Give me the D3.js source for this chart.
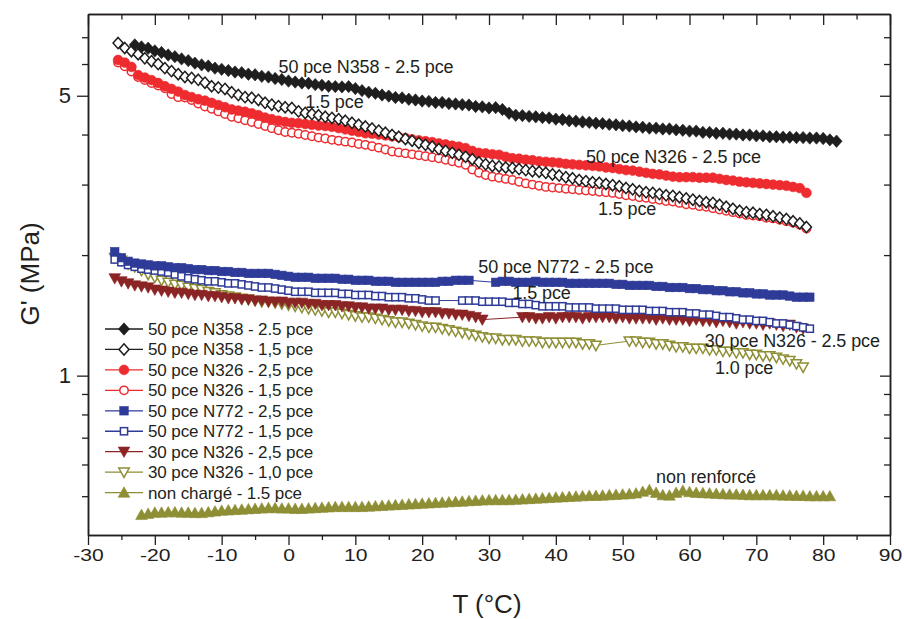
<!DOCTYPE html>
<html>
<head>
<meta charset="utf-8">
<script src="https://cdn.jsdelivr.net/npm/d3@7"></script>
<style>
html,body{margin:0;padding:0;background:#fff;}
svg text{font-family:"Liberation Sans",Arial,Helvetica,sans-serif;fill:#231f20;}
</style>
</head>
<body>
<svg id="chart" width="904" height="619"></svg>
<script>
// ---------------- DATA ----------------
const xTicksMajor = [-30,-20,-10,0,10,20,30,40,50,60,70,80,90];
const xTicksMinor = [-25,-15,-5,5,15,25,35,45,55,65,75,85];
const yTicksMajor = [1,5];
const yTicksMinor = [0.5,0.6,0.7,0.8,0.9,2,3,4,6,7];
const xTitle = "T (°C)";
const yTitle = "G' (MPa)";

const legendLabels = [
  "50 pce N358 - 2.5 pce",
  "50 pce N358 - 1,5 pce",
  "50 pce N326 - 2,5 pce",
  "50 pce N326 - 1,5 pce",
  "50 pce N772 - 2,5 pce",
  "50 pce N772 - 1,5 pce",
  "30 pce N326 - 2,5 pce",
  "30 pce N326 - 1,0 pce",
  "non chargé - 1.5 pce"
];

// first temperature of each series (°C); points are 1 °C apart
const startT = [-23, -25.5, -25.5, -25.5, -26, -26, -26, -26, -22];

const g_N358_25 = [6.70,6.62,6.57,6.47,6.41,6.32,6.26,6.18,6.12,6.03,5.97,5.93,5.86,5.82,5.78,5.73,5.71,5.66,5.64,5.59,5.57,5.52,5.49,5.44,5.41,5.38,5.37,5.33,5.31,5.28,5.27,5.26,5.27,5.21,5.15,5.10,5.07,5.02,4.99,4.95,4.94,4.90,4.88,4.85,4.84,4.81,4.81,4.78,4.77,4.75,4.74,4.70,4.69,4.66,4.67,4.62,4.52,4.47,4.46,4.44,4.43,4.41,4.40,4.37,4.36,4.33,4.32,4.30,4.29,4.27,4.26,4.24,4.23,4.21,4.20,4.18,4.17,4.15,4.15,4.13,4.13,4.11,4.10,4.08,4.08,4.05,4.05,4.03,4.03,4.01,4.01,3.99,3.99,3.97,3.97,3.95,3.95,3.94,3.94,3.93,3.93,3.92,3.92,3.91,3.88,3.85];
const g_N358_15 = [6.77,6.58,6.46,6.35,6.20,6.10,6.00,5.86,5.76,5.66,5.57,5.54,5.48,5.39,5.28,5.24,5.20,5.10,5.02,4.96,4.94,4.88,4.80,4.75,4.71,4.68,4.66,4.57,4.53,4.50,4.47,4.43,4.40,4.37,4.33,4.28,4.23,4.19,4.14,4.09,4.04,3.99,3.95,3.90,3.86,3.81,3.77,3.73,3.68,3.64,3.60,3.56,3.52,3.47,3.41,3.37,3.34,3.33,3.31,3.30,3.28,3.26,3.24,3.23,3.21,3.18,3.16,3.13,3.11,3.08,3.06,3.04,3.03,3.01,2.99,2.97,2.94,2.92,2.89,2.87,2.86,2.84,2.82,2.81,2.79,2.77,2.75,2.73,2.71,2.70,2.67,2.64,2.61,2.58,2.56,2.55,2.53,2.52,2.50,2.48,2.46,2.43,2.40,2.35];
const g_N326_25 = [6.14,6.05,5.90,5.63,5.55,5.47,5.38,5.28,5.20,5.12,5.02,4.96,4.90,4.86,4.80,4.74,4.68,4.62,4.59,4.56,4.52,4.47,4.41,4.37,4.33,4.30,4.28,4.27,4.25,4.23,4.21,4.20,4.18,4.15,4.12,4.09,4.06,4.03,4.02,4.00,3.98,3.96,3.94,3.92,3.89,3.87,3.85,3.83,3.80,3.78,3.75,3.73,3.70,3.64,3.60,3.59,3.57,3.56,3.52,3.49,3.48,3.46,3.45,3.43,3.42,3.41,3.40,3.38,3.37,3.36,3.35,3.34,3.33,3.31,3.30,3.28,3.26,3.25,3.23,3.21,3.19,3.18,3.16,3.14,3.13,3.13,3.13,3.12,3.12,3.12,3.10,3.08,3.07,3.05,3.04,3.03,3.02,3.01,3.00,2.99,2.98,2.96,2.94,2.86];
const g_N326_15 = [6.05,5.92,5.75,5.57,5.47,5.38,5.30,5.22,5.05,4.96,4.95,4.88,4.78,4.70,4.64,4.57,4.50,4.43,4.39,4.34,4.30,4.25,4.20,4.15,4.10,4.06,4.04,4.02,3.99,3.96,3.93,3.91,3.88,3.86,3.84,3.82,3.79,3.77,3.74,3.71,3.67,3.63,3.61,3.59,3.57,3.55,3.53,3.51,3.49,3.46,3.43,3.40,3.36,3.27,3.21,3.17,3.14,3.12,3.10,3.08,3.05,3.02,3.00,2.98,2.96,2.95,2.94,2.93,2.92,2.91,2.90,2.89,2.88,2.87,2.86,2.84,2.82,2.81,2.79,2.78,2.76,2.75,2.73,2.72,2.70,2.68,2.67,2.65,2.64,2.62,2.60,2.58,2.56,2.54,2.52,2.51,2.50,2.48,2.47,2.45,2.43,2.41,2.38,2.33];
const g_N772_25 = [2.04,1.97,1.93,1.91,1.90,1.89,1.88,1.88,1.87,1.86,1.86,1.85,1.84,1.84,1.83,1.83,1.82,1.82,1.81,1.81,1.80,1.80,1.80,1.80,1.79,1.78,1.77,1.76,1.76,1.76,1.75,1.75,1.75,1.75,1.74,1.74,1.73,1.73,1.73,1.72,1.72,1.72,1.71,1.71,1.71,1.71,1.71,1.71,1.71,1.72,1.72,1.73,1.73,1.73,null,null,null,1.71,1.72,1.72,1.71,1.71,1.71,1.72,1.71,1.71,1.71,1.71,1.70,1.70,1.70,1.70,1.70,1.70,1.70,1.69,1.69,1.68,1.68,1.68,1.68,1.67,1.67,1.66,1.66,1.66,1.65,1.65,1.64,1.64,1.63,1.63,1.62,1.62,1.61,1.61,1.60,1.60,1.59,1.59,1.59,1.58,1.57,1.57,1.57];
const g_N772_15 = [1.95,1.92,1.89,1.87,1.85,1.84,1.83,1.82,1.81,1.79,1.77,1.75,1.74,1.73,1.72,1.72,1.71,1.70,1.70,1.69,1.68,1.67,1.66,1.66,1.65,1.64,1.63,1.62,1.62,1.62,1.61,1.61,1.61,1.61,1.60,1.60,1.59,1.59,1.59,1.58,1.58,1.57,1.57,1.57,1.56,1.56,1.55,1.54,1.54,null,null,null,1.54,1.54,1.54,1.53,1.53,1.53,1.53,1.52,1.52,1.51,1.51,1.50,1.49,1.49,1.49,1.49,1.48,1.48,1.48,1.48,1.47,1.47,1.47,1.47,1.46,1.46,1.46,1.46,1.45,1.45,1.45,1.44,1.44,1.44,1.43,1.43,1.42,1.42,1.41,1.40,1.40,1.39,1.38,1.38,1.37,1.37,1.36,1.35,1.35,1.34,1.33,1.32,1.31];
const g_30N326_25 = [1.75,1.72,1.70,1.68,1.67,1.66,1.64,1.63,1.62,1.61,1.61,1.60,1.59,1.59,1.58,1.58,1.57,1.56,1.56,1.55,1.55,1.54,1.54,1.53,1.53,1.53,1.52,1.52,1.52,1.51,1.51,1.50,1.50,1.50,1.49,1.49,1.48,1.48,1.47,1.47,1.47,1.46,1.46,1.46,1.45,1.45,1.44,1.44,1.44,1.43,1.43,1.42,1.42,1.41,1.40,1.38,null,null,null,null,null,1.40,1.40,1.39,1.39,1.40,1.39,1.40,1.40,1.40,1.39,1.40,1.40,1.40,1.40,1.39,1.40,1.39,1.39,1.39,1.39,1.38,1.39,1.38,1.38,1.38,1.37,1.38,1.37,1.37,1.36,1.37,1.36,1.35,1.36,1.35,1.35,1.34,1.35,1.34,1.33,1.34,1.32,1.31];
const g_30N326_10 = [1.97,1.94,1.90,1.87,1.83,1.79,1.76,1.73,1.71,1.69,1.68,1.66,1.65,1.64,1.62,1.61,1.59,1.58,1.57,1.56,1.55,1.54,1.53,1.53,1.52,1.51,1.50,1.49,1.48,1.47,1.46,1.45,1.44,1.44,1.43,1.42,1.41,1.40,1.40,1.39,1.38,1.37,1.36,1.36,1.35,1.34,1.33,1.32,1.32,1.31,1.30,1.29,1.28,1.27,1.26,1.25,1.24,1.24,1.23,1.23,1.23,1.22,1.22,1.22,1.21,1.21,1.21,1.21,1.21,1.21,1.20,1.20,1.19,null,null,null,null,1.22,1.22,1.21,1.21,1.20,1.20,1.19,1.18,1.18,1.17,1.17,1.17,1.16,1.16,1.15,1.15,1.14,1.14,1.13,1.13,1.12,1.12,1.11,1.10,1.09,1.07,1.05];
const g_nonCharge = [0.449,0.452,0.455,0.455,0.456,0.456,0.455,0.455,0.454,0.454,0.456,0.458,0.460,0.461,0.462,0.463,0.464,0.465,0.466,0.467,0.467,0.466,0.466,0.465,0.465,0.466,0.467,0.468,0.469,0.470,0.470,0.470,0.470,0.470,0.471,0.472,0.473,0.474,0.475,0.476,0.477,0.478,0.479,0.480,0.481,0.482,0.483,0.484,0.485,0.486,0.487,0.488,0.489,0.489,0.489,0.489,0.490,0.491,0.492,0.493,0.494,0.495,0.496,0.497,0.498,0.499,0.500,0.501,0.501,0.502,0.503,0.504,0.505,0.506,0.508,0.513,0.518,0.510,0.503,0.502,0.510,0.516,0.512,0.510,0.509,0.508,0.507,0.506,0.505,0.505,0.504,0.503,0.503,0.503,0.503,0.503,0.502,0.502,0.501,0.501,0.500,0.500,0.500,0.500];

const annotations = [
  {text:"50 pce N358 - 2.5 pce", t:-1.5, v:5.91},
  {text:"1.5 pce", t:2.5, v:4.83},
  {text:"50 pce N326 - 2.5 pce", t:44.5, v:3.53},
  {text:"1.5 pce", t:46.3, v:2.61},
  {text:"50 pce N772 - 2.5 pce", t:28.4, v:1.87},
  {text:"1.5 pce", t:33.5, v:1.61},
  {text:"30 pce N326 - 2.5 pce", t:62.3, v:1.22},
  {text:"1.0 pce", t:63.8, v:1.046},
  {text:"non renforcé", t:55.0, v:0.559}
];

// ---------------- STYLE ----------------
const seriesValues = [g_N358_25,g_N358_15,g_N326_25,g_N326_15,g_N772_25,g_N772_15,g_30N326_25,g_30N326_10,g_nonCharge];
const colors = ["#1e1e1e","#1e1e1e","#ee2b2f","#ee2b2f","#2f3b98","#2f3b98","#8b2424","#8e8e35","#8e8e35"];
const shapes = ["diamond","diamond","circle","circle","square","square","triDown","triDown","triUp"];
const filled = [true,false,true,false,true,false,true,false,true];

const svg = d3.select("#chart");
const L = 88, R = 890, T = 14, B = 535;

const x = d3.scaleLinear().domain([-30,90]).range([L,R]);
const y = d3.scaleLog().domain([0.4,8]).range([B,T]);

const axisColor = "#231f20";

function styleAxis(g){
  g.selectAll("path.domain").attr("stroke",axisColor).attr("stroke-width",1.5);
  g.selectAll(".tick line").attr("stroke",axisColor).attr("stroke-width",1.3);
}

// bottom
svg.append("g").attr("transform",`translate(0,${B})`)
  .call(d3.axisBottom(x).tickValues(xTicksMinor).tickSize(5).tickSizeOuter(0).tickFormat(""))
  .call(styleAxis);
const xb = svg.append("g").attr("transform",`translate(0,${B})`)
  .call(d3.axisBottom(x).tickValues(xTicksMajor).tickSize(10).tickSizeOuter(0).tickFormat(d3.format("d")))
  .call(styleAxis);
xb.selectAll("text").attr("font-size",16.5).attr("y",0).attr("dy",null)
  .attr("transform","translate(0,26) scale(1.28,1)")
  .text(d=>String(d));
// top
svg.append("g").attr("transform",`translate(0,${T})`)
  .call(d3.axisTop(x).tickValues(xTicksMinor).tickSize(-5.5).tickSizeOuter(0).tickFormat(""))
  .call(styleAxis);
svg.append("g").attr("transform",`translate(0,${T})`)
  .call(d3.axisTop(x).tickValues(xTicksMajor).tickSize(-11).tickSizeOuter(0).tickFormat(""))
  .call(styleAxis);
// left
svg.append("g").attr("transform",`translate(${L},0)`)
  .call(d3.axisLeft(y).tickValues(yTicksMinor).tickSize(6).tickSizeOuter(0).tickFormat(""))
  .call(styleAxis);
const yl = svg.append("g").attr("transform",`translate(${L},0)`)
  .call(d3.axisLeft(y).tickValues(yTicksMajor).tickSize(11).tickSizeOuter(0).tickFormat(d3.format("d")))
  .call(styleAxis);
yl.selectAll("text").attr("font-size",22).attr("x",-17);
// right
svg.append("g").attr("transform",`translate(${R},0)`)
  .call(d3.axisRight(y).tickValues(yTicksMinor).tickSize(-6).tickSizeOuter(0).tickFormat(""))
  .call(styleAxis);
svg.append("g").attr("transform",`translate(${R},0)`)
  .call(d3.axisRight(y).tickValues(yTicksMajor).tickSize(-10).tickSizeOuter(0).tickFormat(""))
  .call(styleAxis);

// titles
svg.append("text").attr("x",487).attr("y",613).attr("text-anchor","middle")
  .attr("font-size",26).text(xTitle);
svg.append("text").attr("transform","translate(39,274) rotate(-90)").attr("text-anchor","middle")
  .attr("font-size",26).text(yTitle);

// markers
function marker(g, shape, isFilled, color){
  const fill = isFilled ? color : "#fff";
  const sw = isFilled ? 0.6 : 1.5;
  let el;
  if(shape==="circle"){
    el = g.append("circle").attr("r", isFilled ? 4.9 : 4.2);
  } else if(shape==="square"){
    const s = isFilled ? 8.5 : 7.2;
    el = g.append("rect").attr("x",-s/2).attr("y",-s/2).attr("width",s).attr("height",s);
  } else if(shape==="diamond"){
    const a = isFilled ? 5.6 : 5.0, b = isFilled ? 6.2 : 5.6;
    el = g.append("path").attr("d",`M0,${-b}L${a},0L0,${b}L${-a},0Z`);
  } else if(shape==="triDown"){
    const a = isFilled ? 5.8 : 5.2;
    el = g.append("path").attr("d",`M${-a},${-a*0.8}L${a},${-a*0.8}L0,${a*1.0}Z`);
  } else {
    const a = 5.8;
    el = g.append("path").attr("d",`M${-a},${a*0.8}L${a},${a*0.8}L0,${-a*1.0}Z`);
  }
  el.attr("fill",fill).attr("stroke",color).attr("stroke-width",sw).attr("stroke-linejoin","miter");
}

const line = d3.line().x(d=>x(d.t)).y(d=>y(d.v));
const plot = svg.append("g");
const order = [8,7,6,5,4,3,2,1,0];
order.forEach(i=>{
  const pts = seriesValues[i].map((v,k)=>({t:startT[i]+k, v})).filter(p=>p.v!==null);
  plot.append("path").datum(pts).attr("d",line).attr("fill","none")
    .attr("stroke",colors[i]).attr("stroke-width",1);
  const mg = plot.append("g");
  pts.forEach(p=>{
    const g = mg.append("g").attr("transform",`translate(${x(p.t)},${y(p.v)})`);
    marker(g, shapes[i], filled[i], colors[i]);
  });
});

// annotations
annotations.forEach(a=>{
  svg.append("text").attr("x",x(a.t)).attr("y",y(a.v)).attr("dy","0.35em")
    .attr("font-size",18).attr("letter-spacing",-0.1).text(a.text);
});

// legend
const lg = svg.append("g");
legendLabels.forEach((lab,i)=>{
  const yy = 329 + i*20.45;
  lg.append("line").attr("x1",105).attr("x2",143).attr("y1",yy).attr("y2",yy)
    .attr("stroke",colors[i]).attr("stroke-width",1.3);
  const g = lg.append("g").attr("transform",`translate(124,${yy})`);
  marker(g, shapes[i], filled[i], colors[i]);
  lg.append("text").attr("x",148).attr("y",yy).attr("dy","0.35em")
    .attr("font-size",17).attr("letter-spacing",-0.1).text(lab);
});
</script>
</body>
</html>
